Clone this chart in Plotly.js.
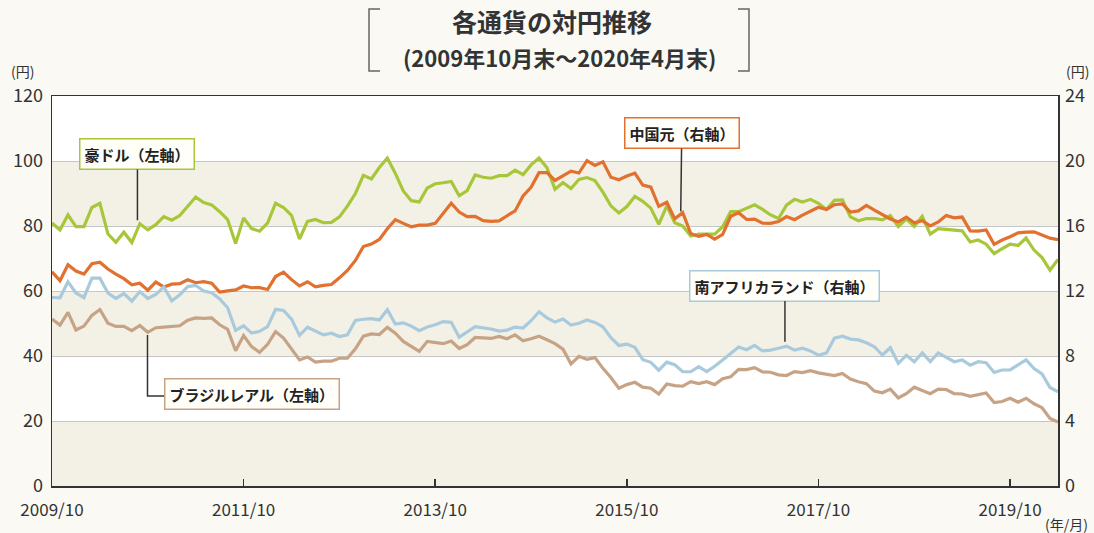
<!DOCTYPE html>
<html>
<head>
<meta charset="utf-8">
<script src="https://cdn.plot.ly/plotly-3.0.1.min.js"></script>
<style>
  html, body { margin: 0; padding: 0; background: #faf9f3; }
  #chart { width: 1094px; height: 533px; }
</style>
</head>
<body>
<div id="chart"></div>
<script>
// ---- Data (month-end, 2009/10 – 2020/04) ----
const startYear = 2009, startMonth = 10, monthCount = 127;
const months = [];
for (let k = 0; k < monthCount; k++) {
  const m = (startMonth - 1 + k) % 12 + 1;
  const y = startYear + Math.floor((startMonth - 1 + k) / 12);
  months.push(y + '/' + (m < 10 ? '0' + m : m));
}

// Australian dollar (left axis, yen)
const aud = [
  80.9, 78.8, 83.4,
  79.8, 79.8, 85.7, 87.0, 77.6, 75.0, 78.1, 74.9, 80.7, 78.8, 80.4, 82.9,
  81.8, 83.2, 85.9, 88.9, 87.2, 86.5, 84.4, 82.0, 74.6, 82.5, 79.2, 78.4,
  80.9, 87.0, 85.7, 83.3, 76.0, 81.4, 82.0, 81.0, 81.1, 82.8, 86.1, 90.0,
  95.6, 94.5, 98.0, 100.9, 96.2, 90.8, 87.8, 87.4, 91.7, 93.0, 93.3, 93.7,
  89.3, 90.9, 95.7, 95.0, 94.7, 95.5, 95.5, 97.2, 95.8, 98.8, 100.9, 97.9,
  91.3, 93.4, 91.5, 94.3, 94.9, 94.0, 90.4, 86.2, 84.0, 86.0, 89.1, 87.6,
  85.5, 80.5, 86.2, 81.0, 80.0, 76.9, 77.5, 77.6, 77.5, 79.8, 84.4, 84.4,
  85.5, 86.5, 85.1, 83.4, 82.3, 86.4, 88.2, 87.4, 88.2, 87.0, 85.1, 87.9,
  88.0, 82.8, 81.6, 82.3, 82.3, 81.9, 83.2, 79.8, 82.2, 79.9, 83.0, 77.5,
  79.2, 79.0, 78.7, 78.5, 75.1, 75.7, 74.4, 71.5, 73.0, 74.4, 74.0, 76.3,
  72.6, 70.3, 66.4, 69.7
];

// Chinese yuan (right axis, yen)
const cny = [
  13.18, 12.64, 13.62,
  13.23, 13.04, 13.68, 13.77, 13.35, 13.04, 12.76, 12.38, 12.48, 12.05, 12.55, 12.25,
  12.42, 12.45, 12.69, 12.51, 12.58, 12.48, 11.94, 12.01, 12.07, 12.31, 12.20, 12.21,
  12.09, 12.89, 13.16, 12.70, 12.31, 12.57, 12.26, 12.35, 12.40, 12.81, 13.26, 13.88,
  14.74, 14.89, 15.17, 15.83, 16.39, 16.16, 15.95, 16.05, 16.06, 16.16, 16.81, 17.40,
  16.86, 16.58, 16.59, 16.33, 16.29, 16.31, 16.63, 16.93, 17.85, 18.38, 19.28, 19.29,
  18.80, 19.07, 19.37, 19.26, 20.02, 19.73, 19.95, 19.00, 18.85, 19.08, 19.25, 18.52,
  18.39, 17.21, 17.46, 16.44, 16.82, 15.54, 15.36, 15.48, 15.19, 15.48, 16.60, 16.82,
  16.40, 16.42, 16.17, 16.16, 16.27, 16.58, 16.39, 16.67, 16.92, 17.15, 17.02, 17.31,
  17.36, 16.86, 16.93, 17.27, 16.97, 16.72, 16.43, 16.25, 16.55, 16.20, 16.33, 16.01,
  16.25, 16.65, 16.50, 16.55, 15.70, 15.69, 15.76, 14.87, 15.14, 15.34, 15.58, 15.62,
  15.64, 15.45, 15.25, 15.16
];

// South African rand (right axis, yen)
const zar = [
  11.60, 11.58, 12.57,
  11.88, 11.59, 12.79, 12.79, 11.88, 11.54, 11.84, 11.38, 11.96, 11.54, 11.79, 12.25,
  11.39, 11.77, 12.27, 12.34, 12.00, 11.89, 11.51, 10.97, 9.57, 9.86, 9.41, 9.52,
  9.81, 10.87, 10.80, 10.27, 9.27, 9.77, 9.52, 9.30, 9.40, 9.20, 9.30, 10.19,
  10.26, 10.30, 10.22, 10.85, 9.97, 10.04, 9.84, 9.56, 9.78, 9.92, 10.12, 10.07,
  9.16, 9.49, 9.80, 9.73, 9.66, 9.53, 9.59, 9.78, 9.72, 10.17, 10.72, 10.35,
  10.09, 10.28, 9.90, 10.02, 10.22, 10.07, 9.80, 9.13, 8.65, 8.73, 8.53, 7.77,
  7.61, 7.13, 7.62, 7.46, 7.04, 7.03, 7.34, 7.04, 7.37, 7.76, 8.15, 8.55,
  8.39, 8.65, 8.31, 8.36, 8.48, 8.61, 8.36, 8.48, 8.31, 8.05, 8.19, 9.10,
  9.22, 9.04, 8.99, 8.81, 8.57, 8.06, 8.51, 7.55, 8.04, 7.64, 8.19, 7.65,
  8.19, 7.90, 7.65, 7.76, 7.44, 7.65, 7.59, 6.99, 7.14, 7.15, 7.45, 7.76,
  7.23, 6.90, 6.06, 5.79
];

// Brazilian real (left axis, yen)
const brl = [
  51.4, 49.5, 53.4,
  48.0, 49.2, 52.5, 54.3, 50.1, 49.1, 49.1, 47.8, 49.4, 47.3, 48.7, 48.9,
  49.1, 49.3, 51.0, 51.7, 51.6, 51.7, 49.6, 48.2, 41.6, 46.3, 42.9, 41.1,
  43.6, 47.5, 45.5, 42.3, 38.8, 39.7, 38.1, 38.4, 38.4, 39.3, 39.3, 42.2,
  46.1, 46.8, 46.6, 48.8, 47.0, 44.5, 42.9, 41.4, 44.5, 44.1, 43.8, 44.6,
  42.3, 43.5, 45.7, 45.6, 45.4, 46.0, 45.3, 46.5, 44.7, 45.3, 46.1, 45.0,
  43.8, 42.1, 37.6, 39.9, 39.0, 39.5, 36.2, 33.4, 30.1, 31.2, 31.9, 30.4,
  30.1, 28.3, 31.4, 30.9, 30.7, 32.1, 31.5, 32.1, 31.2, 33.0, 33.6, 35.9,
  35.8, 36.4, 35.1, 35.0, 34.2, 34.0, 35.2, 34.9, 35.5, 34.8, 34.5, 34.0,
  34.6, 32.9, 32.1, 31.5, 29.2, 28.7, 29.8, 27.1, 28.4, 30.4, 29.4, 28.4,
  29.8, 29.7, 28.4, 28.3, 27.6, 28.1, 28.6, 25.7, 26.0, 27.0, 25.8, 27.0,
  25.3, 24.1, 20.8, 19.7
];

const xTickLabels = ['2009/10', '2011/10', '2013/10', '2015/10', '2017/10', '2019/10'];
const leftTicks = [0, 20, 40, 60, 80, 100, 120];
const rightTicks = [0, 4, 8, 12, 16, 20, 24];
const bandRanges = [[0, 20], [40, 60], [80, 100]];

const titleText = '各通貨の対円推移';
const subTitleText = '(2009年10月末～2020年4月末)';
const labels = {
  aud: '豪ドル（左軸）',
  cny: '中国元（右軸）',
  zar: '南アフリカランド（右軸）',
  brl: 'ブラジルレアル（左軸）'
};

// ---- Styles ----
const FONT = '"Noto Sans CJK JP", "Noto Sans", sans-serif';
const C = { aud: '#a8c63a', cny: '#e2702e', zar: '#a9cadd', brl: '#c7a386' };
const LW = 3.2;

const traces = [
  { x: months, y: aud, type: 'scatter', mode: 'lines', yaxis: 'y',
    line: { color: C.aud, width: LW }, hoverinfo: 'skip' },
  { x: months, y: cny, type: 'scatter', mode: 'lines', yaxis: 'y2',
    line: { color: C.cny, width: LW }, hoverinfo: 'skip' },
  { x: months, y: zar, type: 'scatter', mode: 'lines', yaxis: 'y2',
    line: { color: C.zar, width: LW }, hoverinfo: 'skip' },
  { x: months, y: brl, type: 'scatter', mode: 'lines', yaxis: 'y',
    line: { color: C.brl, width: LW }, hoverinfo: 'skip' }
];

const LMAX = 120;
const shapes = bandRanges.map(r => ({
  type: 'rect', xref: 'paper', yref: 'paper', x0: 0, x1: 1,
  y0: r[0] / LMAX, y1: r[1] / LMAX, fillcolor: '#f3f1e5',
  line: { width: 0 }, layer: 'below'
}));

// title brackets (paper coords relative to plot area)
const PW = 1006, PH = 390, PL = 52, PB = 486;
const px = v => (v - PL) / PW;
const py = v => (PB - v) / PH;
shapes.push({
  type: 'path', xref: 'paper', yref: 'paper',
  path: `M ${px(380)} ${py(9)} L ${px(369)} ${py(9)} L ${px(369)} ${py(71)} L ${px(380)} ${py(71)}`,
  line: { color: '#666', width: 1.5 }
});
shapes.push({
  type: 'path', xref: 'paper', yref: 'paper',
  path: `M ${px(738)} ${py(9)} L ${px(749)} ${py(9)} L ${px(749)} ${py(71)} L ${px(738)} ${py(71)}`,
  line: { color: '#666', width: 1.5 }
});
// BRL leader (L shape)
shapes.push({
  type: 'path', xref: 'x', yref: 'y',
  path: 'M 11.96 46.5 L 11.96 27.7 L 14.3 27.7',
  line: { color: '#333', width: 1.5 }
});

const boxBase = {
  font: { family: FONT, size: 15, color: '#222' },
  bgcolor: '#fffef9', borderwidth: 1.5, borderpad: 4,
  arrowhead: 0, arrowwidth: 1.5, arrowcolor: '#333', standoff: 0,
  xanchor: 'center', yanchor: 'middle'
};
const txt = (text, x, y, size) => ({
  text: text, xref: 'paper', yref: 'paper', x: px(x), y: py(y),
  xanchor: 'center', yanchor: 'middle', showarrow: false,
  font: { family: FONT, size: size, color: '#333' }
});

const annotations = [
  Object.assign({}, boxBase, { text: '<b>' + labels.aud + '</b>', x: 10.7, y: 81.8, xref: 'x', yref: 'y',
    showarrow: true, ax: 0, ay: -66, bordercolor: C.aud }),
  Object.assign({}, boxBase, { text: '<b>' + labels.cny + '</b>', x: 78.75, y: 16.9, xref: 'x', yref: 'y2',
    showarrow: true, ax: 1, ay: -78, bordercolor: C.cny }),
  Object.assign({}, boxBase, { text: '<b>' + labels.zar + '</b>', x: 91.8, y: 8.88, xref: 'x', yref: 'y2',
    showarrow: true, ax: 0, ay: -56, bordercolor: C.zar }),
  Object.assign({}, boxBase, { text: '<b>' + labels.brl + '</b>', x: 25, y: 28.2, xref: 'x', yref: 'y',
    showarrow: false, bordercolor: C.brl }),
  txt('<b>' + titleText + '</b>', 552, 21, 25),
  txt('<b>' + subTitleText + '</b>', 559, 57, 22),
  txt('(円)', 22, 71, 14),
  txt('(円)', 1077, 71, 14),
  txt('(年/月)', 1066, 524, 14)
];

const layout = {
  width: 1094, height: 533,
  margin: { l: 52, r: 36, t: 96, b: 47 },
  paper_bgcolor: '#faf9f3',
  plot_bgcolor: '#ffffff',
  showlegend: false,
  font: { family: FONT, size: 18, color: '#333' },
  xaxis: {
    type: 'category', range: [0, monthCount - 1],
    tickvals: xTickLabels, ticktext: xTickLabels,
    ticks: 'inside', ticklen: 7, tickwidth: 1.5, tickcolor: '#333',
    ticklabelstandoff: 8,
    showgrid: false, zeroline: false,
    showline: true, linecolor: '#333', linewidth: 1.5, mirror: true,
    tickfont: { family: FONT, size: 17, color: '#333' }
  },
  yaxis: {
    range: [0, LMAX], tickvals: leftTicks, ticks: '',
    ticklabelstandoff: 4,
    showgrid: true, gridcolor: '#c6c6c6', gridwidth: 1, zeroline: false,
    showline: true, linecolor: '#333', linewidth: 1.5,
    tickfont: { family: FONT, size: 18, color: '#333' }
  },
  yaxis2: {
    overlaying: 'y', side: 'right', range: [0, 24], tickvals: rightTicks, ticks: '',
    ticklabelstandoff: 2,
    showgrid: false, zeroline: false,
    showline: true, linecolor: '#333', linewidth: 1.5,
    tickfont: { family: FONT, size: 18, color: '#333' }
  },
  shapes: shapes,
  annotations: annotations
};

Plotly.newPlot('chart', traces, layout, { displayModeBar: false, staticPlot: true });
</script>
</body>
</html>
